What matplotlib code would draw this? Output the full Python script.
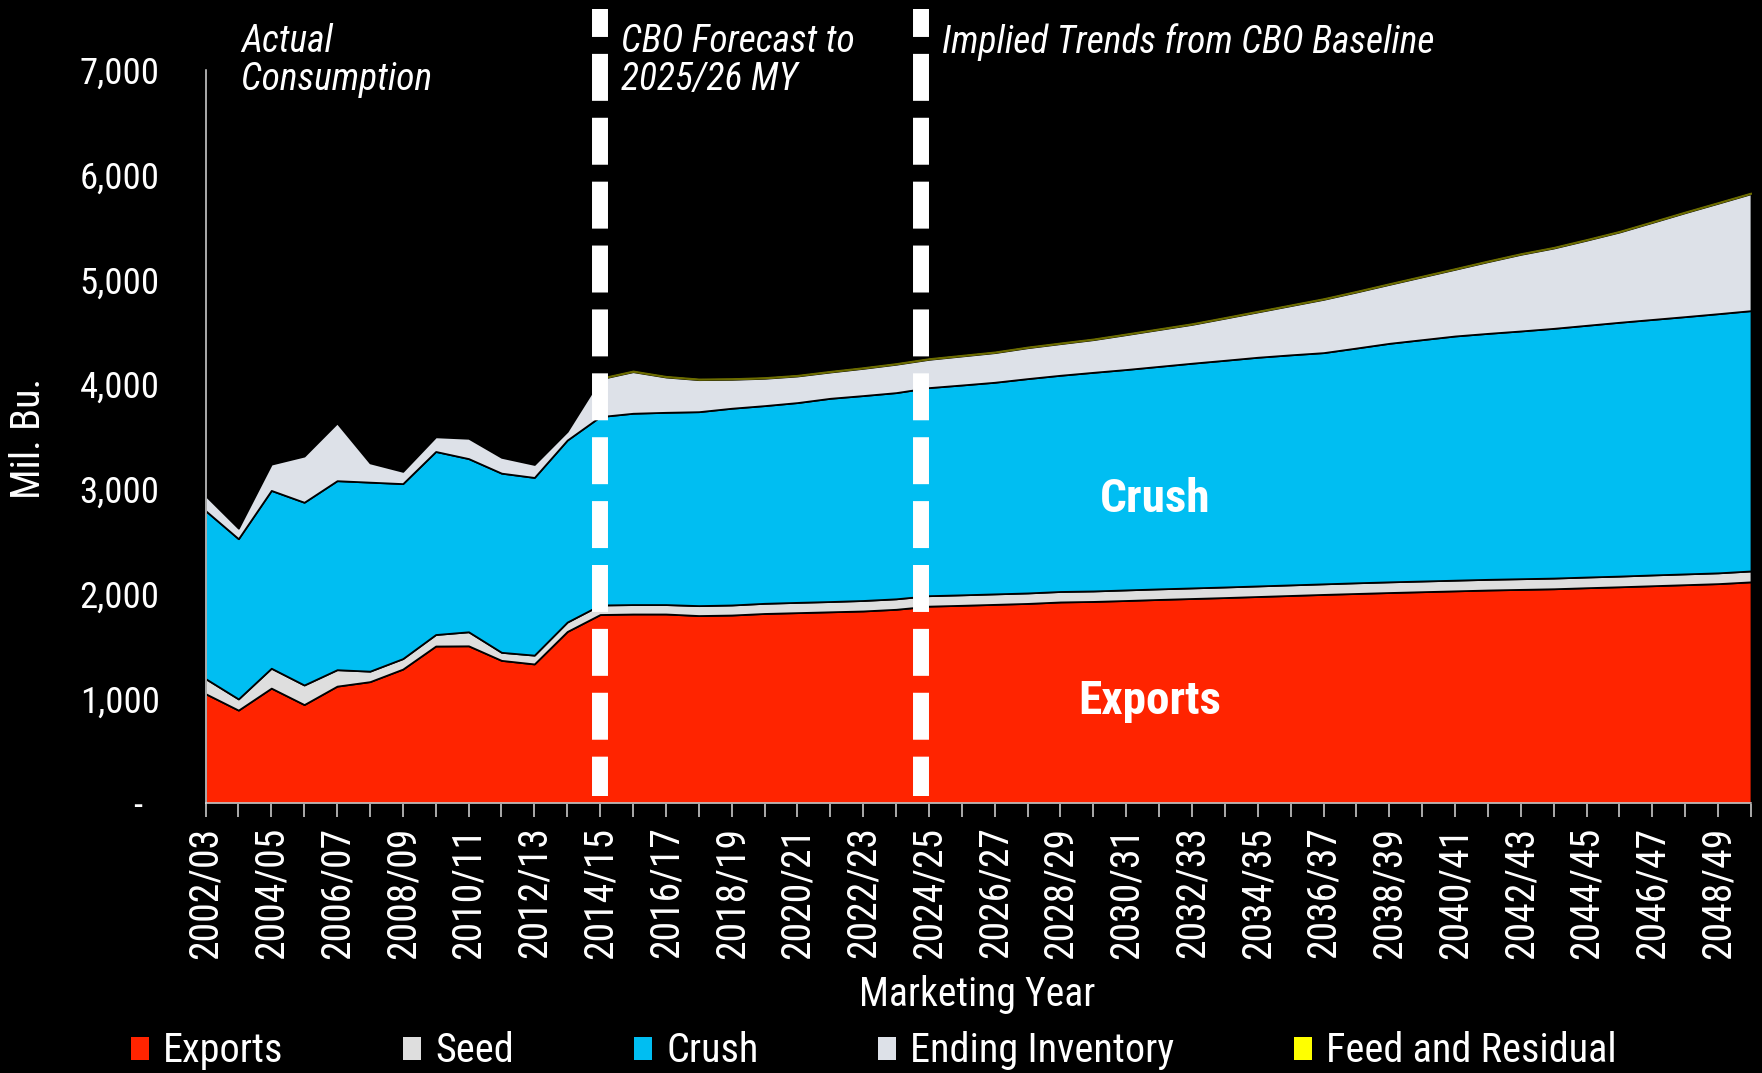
import matplotlib
matplotlib.use("Agg")
import matplotlib.pyplot as plt
import matplotlib.transforms as mtransforms
from matplotlib import font_manager
from matplotlib.patches import Patch
from matplotlib.ticker import FuncFormatter
import numpy as np

installed = {f.name for f in font_manager.fontManager.ttflist}
narrow = [f for f in ['Liberation Sans Narrow', 'Roboto Condensed', 'Arial Narrow'] if f in installed]
plt.rcParams['font.family'] = narrow[:1] + ['Liberation Sans', 'DejaVu Sans']

# marketing years 2002/03 .. 2049/50
years = [f"{y}/{(y + 1) % 100:02d}" for y in range(2002, 2050)]

# Mil. Bu. (actual to 2013/14, CBO forecast and implied trend after)
exports = [1044, 887, 1097, 940, 1116, 1159, 1279, 1499, 1501, 1362, 1328, 1638,
           1800, 1805, 1805, 1790, 1795, 1810, 1818, 1826, 1834, 1850, 1880, 1888,
           1897, 1906, 1920, 1925, 1934, 1944, 1953, 1962, 1972, 1982, 1992, 2001,
           2010, 2018, 2026, 2034, 2040, 2046, 2056, 2065, 2075, 2085, 2095, 2112]
seed = [144, 107, 190, 187, 157, 100, 100, 110, 134, 77, 84, 90,
        91, 90, 90, 95, 96, 97, 98, 98, 100, 100, 100, 100,
        100, 100, 100, 100, 101, 101, 101, 101, 101, 101, 101, 102,
        102, 102, 102, 102, 102, 102, 102, 102, 103, 103, 103, 104]
crush = [1604, 1530, 1698, 1745, 1805, 1805, 1671, 1748, 1654, 1711, 1697, 1738,
         1799, 1827, 1836, 1852, 1879, 1888, 1908, 1941, 1957, 1969, 1987, 2004,
         2021, 2047, 2065, 2088, 2105, 2125, 2146, 2165, 2184, 2197, 2208, 2242,
         2278, 2305, 2332, 2349, 2366, 2385, 2404, 2424, 2440, 2457, 2475, 2486]
ending_inventory = [144, 100, 251, 441, 551, 184, 117, 140, 194, 151, 124, 83,
                    360, 397, 337, 306, 276, 261, 254, 251, 260, 271, 270, 277,
                    283, 295, 302, 312, 333, 352, 371, 402, 433, 470, 509, 535,
                    563, 600, 637, 685, 732, 767, 813, 862, 927, 993, 1055, 1117]
feed = [np.nan] * 12 + [10] * 36

series_names = ["Exports", "Seed", "Crush", "Ending Inventory", "Feed and Residual"]
colors = ['#FF2400', '#DEDEDE', '#00BEF2', '#DDE1E8', '#FFFF00']

# where the period dividers sit (in year-index units)
divider_x = [12, 21.77]

# regular-width fallback needs smaller type to take the same room
k = 1.0 if narrow else 0.84

fig = plt.figure(figsize=(17.62, 10.73), dpi=100, facecolor='black')
ax = fig.add_axes([0.11663, 0.25163, 0.87713, 0.68313], facecolor='black')

x = np.arange(len(years))
base = np.zeros(len(years))
for vals, color, name in zip([exports, seed, crush, ending_inventory, feed], colors, series_names):
    v = np.array(vals, dtype=float)
    top = base + v
    if name == "Feed and Residual":
        ax.fill_between(x, base, top, facecolor=color, edgecolor='#6b6b00', linewidth=0.8, zorder=2)
    else:
        ax.fill_between(x, base, top, facecolor=color, edgecolor='black', linewidth=1.3, zorder=2)
    base = np.where(np.isnan(top), base, top)

# dashed white period dividers (reach above the plot area)
trans = mtransforms.blended_transform_factory(ax.transData, ax.transAxes)
for xd in divider_x:
    ax.plot([xd, xd], [1.083, 0.0095], transform=trans, color='white', linewidth=11.5,
            linestyle=(1.19, (2.94, 1.06)), solid_capstyle='butt', clip_on=False, zorder=4)

ax.set_xlim(0, len(years) - 1)
ax.set_ylim(0, 7000)
ax.set_yticks(range(0, 7001, 1000))
ax.yaxis.set_major_formatter(FuncFormatter(lambda v, p: "-  " if v == 0 else f"{v:,.0f}"))
ax.set_xticks(x)
ax.set_xticklabels([yr if i % 2 == 0 else '' for i, yr in enumerate(years)])

for side in ['top', 'right']:
    ax.spines[side].set_visible(False)
for side in ['left', 'bottom']:
    ax.spines[side].set_color('#D9D9D9')
    ax.spines[side].set_linewidth(1.1)
    ax.spines[side].set_zorder(5)

ax.tick_params(axis='x', direction='out', length=10, width=1.1, color='#D9D9D9',
               labelcolor='white', labelsize=28.5 * k, pad=7, labelrotation=90)
ax.tick_params(axis='y', length=0, labelcolor='white', labelsize=26.5 * k, pad=33)

fig.text(28 / 1762, 1 - 438 / 1073, "Mil. Bu.", color='white', fontsize=29 * k,
         rotation=90, ha='center', va='center')
fig.text(977 / 1762, 1 - 994 / 1073, "Marketing Year", color='white', fontsize=28.5 * k,
         ha='center', va='center')

# period annotations (baseline = last line)
fig.text(241 / 1762, 1 - 90 / 1073, "Actual\nConsumption", color='white', fontsize=27 * k,
         style='italic', ha='left', va='baseline', linespacing=1.05)
fig.text(621 / 1762, 1 - 90 / 1073, "CBO Forecast to\n2025/26 MY", color='white', fontsize=27 * k,
         style='italic', ha='left', va='baseline', linespacing=1.05)
fig.text(942 / 1762, 1 - 53 / 1073, "Implied Trends from CBO Baseline", color='white',
         fontsize=27 * k, style='italic', ha='left', va='baseline')

ax.text(0.6144, 0.4145, "Crush", transform=ax.transAxes, color='white', fontsize=34 * k,
        fontweight='bold', ha='center', va='center', zorder=6)
ax.text(0.6111, 0.1390, "Exports", transform=ax.transAxes, color='white', fontsize=34 * k,
        fontweight='bold', ha='center', va='center', zorder=6)

handles = [Patch(facecolor=c, edgecolor='none') for c in colors]
fig.legend(handles, series_names, loc='center left', bbox_to_anchor=(131 / 1762, 1 - 1051 / 1073),
           ncol=5, frameon=False, fontsize=29 * k, handlelength=0.45 / k, handleheight=0.5 / k,
           handletextpad=0.35 / k, columnspacing=2.97 / k, borderpad=0, borderaxespad=0,
           labelcolor='white')

fig.savefig('out.png', dpi=100, facecolor='black')
